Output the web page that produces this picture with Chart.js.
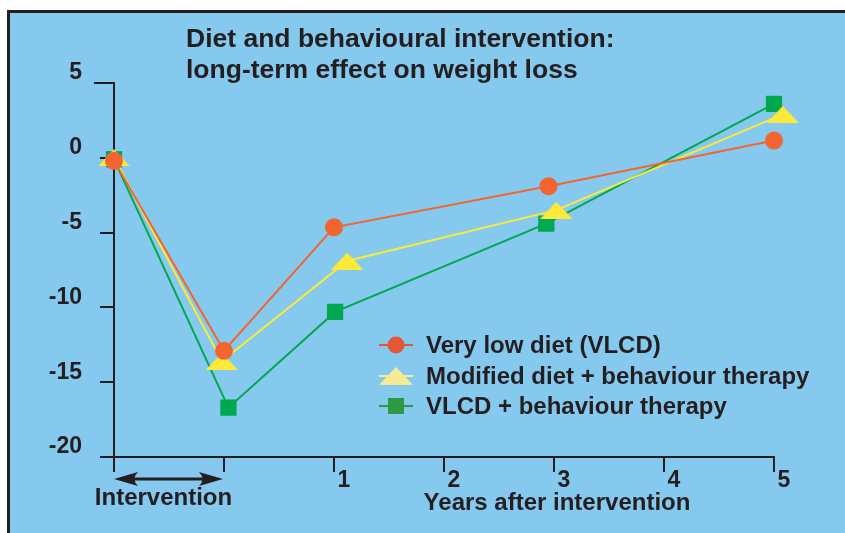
<!DOCTYPE html>
<html lang="en">
<head>
    <meta charset="UTF-8">
    <title>Diet and behavioural intervention</title>
    <script src="https://cdn.jsdelivr.net/npm/chart.js"></script>
    <style>
        body {
            margin: 0;
            background: #ffffff;
        }
        #frame {
            position: absolute;
            left: 7px;
            top: 10px;
            width: 835px;
            height: 520px;
            background: #85c9ee;
            border-top: 3px solid #231f20;
            border-left: 3px solid #231f20;
        }
        #weightChart {
            position: absolute;
            left: 0;
            top: 0;
        }
    </style>
</head>
<body>
    <div id="frame"></div>
    <canvas id="weightChart" width="845" height="533"></canvas>
    <script>
        // time points: -1 = start of intervention, 0 = end, then years after
        var seriesNames = ['Very low diet (VLCD)', 'Modified diet + behaviour therapy', 'VLCD + behaviour therapy'];
        var vlcdYears = [-1, 0, 1, 2.95, 5];
        var vlcdLoss = [-0.2, -12.9, -4.65, -1.9, 1.15];
        var modifiedYears = [-1, -0.02, 1.12, 3.02, 5.08];
        var modifiedLoss = [0, -13.6, -6.9, -3.5, 2.9];
        var comboYears = [-1, 0.04, 1.01, 2.93, 5];
        var comboLoss = [-0.1, -16.7, -10.3, -4.4, 3.6];
        var yearTicks = [1, 2, 3, 4, 5];
        var lossTicks = [5, 0, -5, -10, -15, -20];

        var ink = '#231f20';
        var fontFamily = '"Liberation Sans", Arial, sans-serif';

        function pairs(xs, ys) {
            return xs.map(function (x, i) { return { x: x, y: ys[i] }; });
        }

        // flat triangle marker
        function makeTriangle(w, h, color) {
            var c = document.createElement('canvas');
            c.width = w;
            c.height = h;
            var g = c.getContext('2d');
            g.fillStyle = color;
            g.beginPath();
            g.moveTo(0, h);
            g.lineTo(w / 2, 0);
            g.lineTo(w, h);
            g.closePath();
            g.fill();
            return c;
        }

        var triangle = makeTriangle(32, 17, '#fce93a');

        var legendStyles = [
            { line: '#e4583a', fill: '#e4583a', shape: 'circle' },
            { line: '#f6ee96', fill: '#f4ec94', shape: 'triangle' },
            { line: '#2c9a42', fill: '#2c9a42', shape: 'square' }
        ];

        var decorations = {
            id: 'decorations',
            afterDraw: function (chart) {
                var ctx = chart.ctx;
                var x = chart.scales.x;
                var y = chart.scales.y;
                ctx.save();
                ctx.fillStyle = ink;
                ctx.strokeStyle = ink;

                // top tick sticks out a little further
                ctx.lineWidth = 2;
                ctx.beginPath();
                ctx.moveTo(94, Math.round(y.getPixelForValue(5)));
                ctx.lineTo(101, Math.round(y.getPixelForValue(5)));
                ctx.stroke();

                // title
                ctx.font = 'bold 26.5px ' + fontFamily;
                ctx.textAlign = 'left';
                ctx.textBaseline = 'alphabetic';
                ctx.fillText('Diet and behavioural intervention:', 186, 47);
                ctx.fillText('long-term effect on weight loss', 186, 78);

                // intervention arrow
                var x0 = x.getPixelForValue(-1);
                var x1 = x.getPixelForValue(0) - 1;
                var ay = 479;
                ctx.lineWidth = 3;
                ctx.beginPath();
                ctx.moveTo(x0 + 10, ay);
                ctx.lineTo(x1 - 10, ay);
                ctx.stroke();
                [[x0, 1], [x1, -1]].forEach(function (a) {
                    var px = a[0], d = a[1];
                    ctx.beginPath();
                    ctx.moveTo(px, ay);
                    ctx.lineTo(px + d * 24, ay - 7);
                    ctx.quadraticCurveTo(px + d * 17, ay, px + d * 24, ay + 7);
                    ctx.closePath();
                    ctx.fill();
                });

                ctx.font = 'bold 24px ' + fontFamily;
                ctx.textAlign = 'center';
                ctx.textBaseline = 'middle';
                ctx.fillText('Intervention', (x0 + x1) / 2 - 5, 498);
                ctx.fillText('Years after intervention', (x.getPixelForValue(1) + x.getPixelForValue(5)) / 2 + 3, 503);

                // legend
                var rows = [345, 376, 406];
                ctx.textAlign = 'left';
                chart.data.datasets.forEach(function (ds, i) {
                    var st = legendStyles[i];
                    var cy = rows[i];
                    ctx.strokeStyle = st.line;
                    ctx.lineWidth = 2;
                    ctx.beginPath();
                    ctx.moveTo(379, cy);
                    ctx.lineTo(413, cy);
                    ctx.stroke();
                    ctx.fillStyle = st.fill;
                    ctx.beginPath();
                    if (st.shape === 'circle') {
                        ctx.arc(396, cy, 8.5, 0, Math.PI * 2);
                    } else if (st.shape === 'triangle') {
                        ctx.moveTo(379, cy + 9);
                        ctx.lineTo(396, cy - 9);
                        ctx.lineTo(413, cy + 9);
                        ctx.closePath();
                    } else {
                        ctx.rect(388, cy - 8, 16, 16);
                    }
                    ctx.fill();
                    ctx.fillStyle = ink;
                    ctx.font = 'bold 24px ' + fontFamily;
                    ctx.fillText(ds.label, 426, cy + 1);
                });
                ctx.restore();
            }
        };

        var ctx = document.getElementById('weightChart').getContext('2d');
        var weightChart = new Chart(ctx, {
            type: 'scatter',
            data: {
                datasets: [{
                    label: seriesNames[0],
                    data: pairs(vlcdYears, vlcdLoss),
                    showLine: true,
                    borderColor: '#f26531',
                    backgroundColor: '#f26531',
                    borderWidth: 2,
                    pointStyle: 'circle',
                    pointRadius: 9,
                    pointBorderWidth: 0,
                    clip: false
                }, {
                    label: seriesNames[1],
                    data: pairs(modifiedYears, modifiedLoss),
                    showLine: true,
                    borderColor: '#fce93a',
                    backgroundColor: '#fce93a',
                    borderWidth: 2,
                    pointStyle: triangle,
                    pointRadius: 16,
                    pointBorderWidth: 0,
                    clip: false
                }, {
                    label: seriesNames[2],
                    data: pairs(comboYears, comboLoss),
                    showLine: true,
                    borderColor: '#00a84f',
                    backgroundColor: '#00a84f',
                    borderWidth: 2,
                    pointStyle: 'rect',
                    pointRadius: 11.5,
                    pointBorderWidth: 0,
                    clip: false
                }]
            },
            options: {
                responsive: false,
                animation: false,
                events: [],
                layout: {
                    autoPadding: false,
                    padding: { left: 44, top: 83, right: 71, bottom: 36 }
                },
                plugins: {
                    legend: { display: false },
                    tooltip: { enabled: false },
                    title: { display: false }
                },
                scales: {
                    x: {
                        type: 'linear',
                        min: -1,
                        max: 5,
                        afterFit: function (scale) { scale.height = 40; },
                        afterBuildTicks: function (scale) {
                            scale.ticks = [-1, 0].concat(yearTicks).map(function (v) { return { value: v }; });
                        },
                        ticks: {
                            callback: function (v) { return yearTicks.indexOf(v) >= 0 ? String(v) : ''; },
                            labelOffset: 10,
                            padding: -5,
                            maxRotation: 0,
                            autoSkip: false,
                            color: ink,
                            font: { family: fontFamily, size: 23, weight: 'bold' }
                        },
                        grid: {
                            drawOnChartArea: false,
                            drawTicks: true,
                            tickLength: 15,
                            color: ink,
                            lineWidth: 2
                        },
                        border: { display: true, color: ink, width: 2 }
                    },
                    y: {
                        min: -20,
                        max: 5,
                        afterFit: function (scale) { scale.width = 70; },
                        afterBuildTicks: function (scale) {
                            scale.ticks = lossTicks.map(function (v) { return { value: v }; });
                        },
                        ticks: {
                            labelOffset: -10,
                            padding: 18,
                            color: ink,
                            font: { family: fontFamily, size: 23, weight: 'bold' }
                        },
                        grid: {
                            drawOnChartArea: false,
                            drawTicks: true,
                            tickLength: 14,
                            color: ink,
                            lineWidth: 2
                        },
                        border: { display: true, color: ink, width: 2 }
                    }
                }
            },
            plugins: [decorations]
        });
    </script>
</body>
</html>
